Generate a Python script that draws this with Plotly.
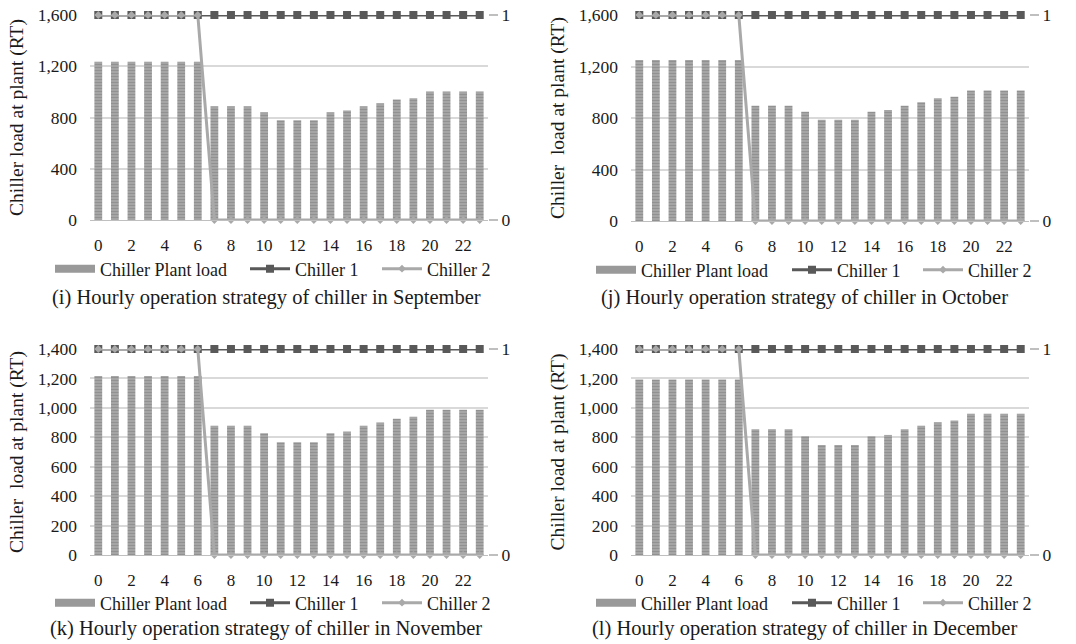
import plotly.graph_objects as go

hours = list(range(24))
sep_load = [1235]*7 + [888, 888, 888, 841, 779, 779, 779, 841, 855, 888, 912, 940, 950, 1002, 1002, 1002, 1002]
oct_load = [1250]*7 + [896, 896, 896, 849, 787, 787, 787, 849, 862, 896, 922, 953, 966, 1013, 1013, 1013, 1013]
nov_load = [1216]*7 + [878, 878, 878, 827, 766, 766, 766, 827, 839, 878, 900, 926, 939, 987, 987, 987, 987]
dec_load = [1193]*7 + [855, 855, 855, 807, 747, 747, 747, 807, 816, 855, 878, 903, 914, 960, 960, 960, 960]
chiller1 = [1]*24
chiller2 = [1]*7 + [0]*17

series_names = ["Chiller Plant load", "Chiller 1", "Chiller 2"]
captions = ["(i) Hourly operation strategy of chiller in September",
            "(j) Hourly operation strategy of chiller in October",
            "(k) Hourly operation strategy of chiller in November",
            "(l) Hourly operation strategy of chiller in December"]
ytitles = ["Chiller load at plant (RT)", "Chiller\u00a0 load at plant (RT)",
           "Chiller\u00a0 load at plant (RT)", "Chiller load at plant (RT)"]
loads = [sep_load, oct_load, nov_load, dec_load]
ymax = [1600, 1600, 1400, 1400]
ydtick = [400, 400, 200, 200]

FONT = "Liberation Serif, Times New Roman, serif"
TXT = "#1a1a1a"
W, H = 1076, 644

xdom = [[90/W, 488/W], [631/W, 1029/W], [90/W, 488/W], [631/W, 1029/W]]
ydom = [[1-220/H, 1-15/H], [1-221/H, 1-15/H], [1-555/H, 1-349/H], [1-555/H, 1-349/H]]
# legend text start positions (px) per panel
leg_text_x = [[100, 295, 427], [641, 837, 968], [100, 295, 427], [641, 837, 968]]
leg_y = [269, 270, 603, 603]
cap_x = [266, 804, 266, 804]
cap_y = [298, 298, 628, 628]

fig = go.Figure()
layout = dict(width=W, height=H, margin=dict(l=0, r=0, t=0, b=0),
              paper_bgcolor="white", plot_bgcolor="white",
              font=dict(family=FONT, color=TXT, size=17), annotations=[])

for i in range(4):
    xa = f"x{2*i+1}" if i else "x"
    ya = f"y{2*i+1}" if i else "y"
    ya2 = f"y{2*i+2}"
    legs = []
    for k in range(3):
        n = 3*i + k + 1
        legs.append("legend" if n == 1 else f"legend{n}")
    fig.add_trace(go.Bar(x=hours, y=loads[i], name=series_names[0], width=0.47, showlegend=False,
                         marker=dict(color="#8c8c8c", line=dict(width=0),
                                     pattern=dict(shape="-", bgcolor="#a8a8a8", fgcolor="#7a7a7a",
                                                  size=3, solidity=0.45)),
                         xaxis=xa, yaxis=ya))
    fig.add_trace(go.Scatter(x=[None], y=[None], name=series_names[0], mode="lines",
                             line=dict(color="#999999", width=8),
                             xaxis=xa, yaxis=ya, legend=legs[0]))
    fig.add_trace(go.Scatter(x=hours, y=chiller1, name=series_names[1], mode="lines+markers",
                             line=dict(color="#595959", width=3),
                             marker=dict(symbol="square", size=8, color="#595959"),
                             xaxis=xa, yaxis=ya2, legend=legs[1], cliponaxis=False))
    fig.add_trace(go.Scatter(x=hours, y=chiller2, name=series_names[2], mode="lines+markers",
                             line=dict(color="#a9a9a9", width=3),
                             marker=dict(symbol="diamond", size=6, color="#a9a9a9"),
                             xaxis=xa, yaxis=ya2, legend=legs[2], cliponaxis=False))
    xkey = "xaxis" if i == 0 else f"xaxis{2*i+1}"
    ykey = "yaxis" if i == 0 else f"yaxis{2*i+1}"
    y2key = f"yaxis{2*i+2}"
    layout[xkey] = dict(domain=xdom[i], anchor=ya, range=[-0.5, 23.5], automargin=False,
                        tickmode="array", tickvals=list(range(0, 24, 2)),
                        ticktext=[str(h) for h in range(0, 24, 2)],
                        showgrid=False, showline=True, linecolor="#bfbfbf", linewidth=1,
                        ticks="", ticklabelstandoff=10,
                        tickfont=dict(size=17, family=FONT, color=TXT))
    layout[ykey] = dict(domain=ydom[i], anchor=xa, range=[0, ymax[i]], dtick=ydtick[i],
                        automargin=False, tickformat=",d", showgrid=True, gridcolor="#d9d9d9",
                        gridwidth=1.5, zeroline=False, showline=False, ticks="",
                        ticklabelstandoff=12,
                        tickfont=dict(size=17.5, family=FONT, color=TXT),
                        title=dict(text=ytitles[i], font=dict(size=19.5, family=FONT, color=TXT),
                                   standoff=8))
    layout[y2key] = dict(domain=ydom[i], anchor=xa, overlaying=ya, side="right", range=[0, 1],
                         automargin=False, tickvals=[0, 1], ticktext=["0", "1"], showgrid=False,
                         zeroline=False, showline=False, ticks="outside", ticklen=9,
                         tickcolor="#bfbfbf", tickwidth=1.5,
                         tickfont=dict(size=17.5, family=FONT, color=TXT))
    for k in range(3):
        layout[legs[k]] = dict(orientation="h", x=(leg_text_x[i][k]-50)/W, y=1-leg_y[i]/H,
                               xanchor="left", yanchor="middle",
                               font=dict(size=18, family=FONT, color=TXT),
                               bgcolor="rgba(0,0,0,0)", itemwidth=40)
    layout["annotations"].append(dict(text=captions[i], x=cap_x[i]/W, y=1-cap_y[i]/H,
                                      xref="paper", yref="paper", showarrow=False,
                                      xanchor="center", yanchor="middle",
                                      font=dict(size=20.5, family=FONT, color=TXT)))

fig.update_layout(**layout)
fig.write_html("out.html", config={"displayModeBar": False},
               post_script="document.body.style.margin='0';document.body.style.overflow='hidden';")
